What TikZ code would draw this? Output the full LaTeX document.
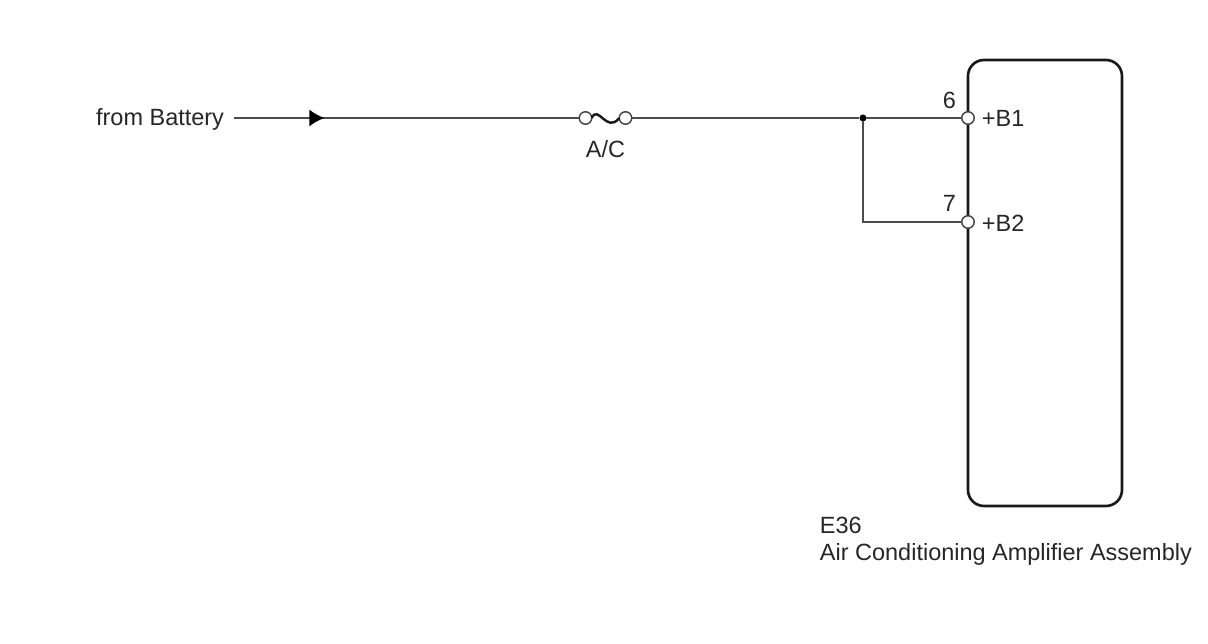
\documentclass[tikz,border=0pt]{standalone}
\usepackage{fontspec}
\setmainfont{Liberation Sans}
\usetikzlibrary{arrows.meta, decorations.markings}

\begin{document}
\begin{tikzpicture}
\tikzset{ >=latex, inner sep=0pt, outer sep=0pt,
  every node/.style={font=\fontsize{6.68}{8}\selectfont, text=black!85},
  wire/.style={line width=0.6pt, black!70},
  pin/.style={draw=black!75, fill=white, circle, line width=0.4pt, minimum size=1.25mm},
  dot/.style={fill=black, circle, minimum size=0.7mm},
  unit/.style={draw=black!90, line width=0.75pt, rounded corners=1.6mm, minimum width=1.54cm, minimum height=4.46cm},
}
\useasboundingbox (0,0) rectangle (12.08,6.44);

%\draw [lightgray, dashed](0,0) grid (12,6);

\node [unit] (amp) at (10.45,3.61) {};

\node [anchor=east] (bat) at (2.24,5.245) {from Battery};
\coordinate (start) at (2.34,5.26);

\node [pin] (fl) at (5.855,5.26) {};
\node [pin] (fr) at (6.255,5.26) {};
\node (fuse) at (6.055,4.95) {A/C};

\node [dot] (J) at (8.63,5.26) {};
\coordinate (K) at (8.63,4.22);

\node [pin] (P1) at (9.68,5.26) {};
\node [pin] (P2) at (9.68,4.22) {};

\node (n6) at (9.495,5.44) {6};
\node (n7) at (9.495,4.41) {7};
\node [anchor=west] (b1) at (9.82,5.26) {+B1};
\node [anchor=west] (b2) at (9.82,4.21) {+B2};

\node [anchor=west] (code) at (8.20,1.19) {E36};
\node [anchor=west] (name) at (8.20,0.895) {Air Conditioning Amplifier Assembly};

\draw [wire, postaction={decorate}, decoration={markings, mark=at position 0.262 with {\arrow{Latex[length=1.5mm,width=1.7mm,black]}}}] (start)--(fl);
\draw [wire] (fr)--(J);
\draw [wire] (J)--(P1);
\draw [wire] (J)--(K)--(P2);
\draw [line width=0.7pt, black!90] (fl.east) .. controls (5.98,5.40) and (6.07,5.10) .. (fr.west);

\end{tikzpicture}
\end{document}
